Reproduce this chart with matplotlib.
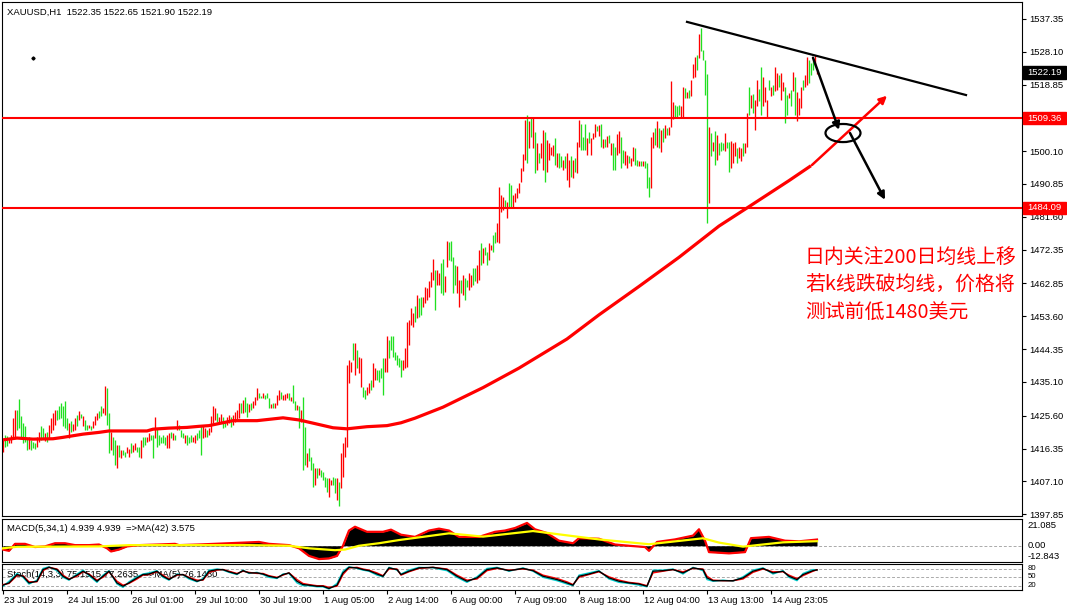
import numpy as np
import matplotlib
matplotlib.use("Agg")
import matplotlib.pyplot as plt
from matplotlib.patches import Ellipse, FancyArrowPatch, Rectangle
from matplotlib.transforms import blended_transform_factory as blend

plt.rcParams["font.family"] = ["Liberation Sans", "DejaVu Sans"]
FS = 6.8

# ---- XAUUSD H1 bars (high / low per bar, colour code per bar) ----
hi = [1418.8, 1420.2, 1419.9, 1419.3, 1420.2, 1424.9, 1427.2, 1427.2, 1430.3, 1425.4,
      1423.5, 1422.6, 1419.3, 1419.7, 1418.8, 1418.3, 1417.9, 1419.7, 1421.1, 1422.6,
      1422.1, 1420.7, 1421.1, 1423.0, 1424.9, 1426.3, 1427.2, 1427.2, 1428.2, 1429.1,
      1428.2, 1429.6, 1424.9, 1423.5, 1424.0, 1423.2, 1424.9, 1425.8, 1426.8, 1426.0,
      1425.4, 1424.4, 1423.0, 1423.0, 1422.6, 1424.0, 1425.4, 1426.3, 1426.8, 1428.2,
      1427.7, 1434.0, 1433.5, 1426.3, 1421.1, 1419.7, 1418.8, 1417.4, 1417.4, 1416.0,
      1416.0, 1415.3, 1416.9, 1416.3, 1417.9, 1417.4, 1417.9, 1416.9, 1416.9, 1418.8,
      1419.7, 1419.7, 1419.7, 1420.7, 1420.2, 1420.2, 1425.1, 1422.1, 1420.2, 1419.7,
      1420.2, 1419.7, 1420.2, 1420.7, 1421.1, 1420.7, 1420.2, 1424.4, 1423.0, 1421.6,
      1420.7, 1420.2, 1420.2, 1419.7, 1420.2, 1419.7, 1420.2, 1420.7, 1421.6, 1422.6,
      1422.6, 1422.1, 1421.6, 1422.1, 1425.5, 1428.2, 1427.7, 1426.3, 1425.3, 1426.1,
      1425.3, 1423.9, 1425.3, 1425.8, 1425.3, 1425.8, 1426.5, 1427.2, 1429.1, 1429.3,
      1430.0, 1431.0, 1429.3, 1428.9, 1429.1, 1429.6, 1431.0, 1433.3, 1431.9, 1431.2,
      1431.9, 1431.4, 1431.9, 1430.5, 1428.9, 1429.1, 1429.1, 1431.4, 1432.8, 1432.4,
      1431.4, 1431.7, 1431.9, 1432.1, 1431.0, 1434.3, 1429.6, 1428.6, 1428.3, 1427.2,
      1430.8, 1422.5, 1415.0, 1416.4, 1414.1, 1412.4, 1410.8, 1410.8, 1410.8, 1410.3,
      1409.8, 1408.4, 1408.0, 1408.0, 1407.5, 1408.4, 1408.0, 1408.0, 1407.0, 1415.0,
      1417.8, 1419.7, 1439.9, 1441.3, 1440.8, 1446.2, 1446.2, 1444.1, 1442.2, 1441.8,
      1433.8, 1432.8, 1433.8, 1434.7, 1435.7, 1440.4, 1438.9, 1438.5, 1438.5, 1438.9,
      1441.8, 1441.8, 1447.9, 1446.9, 1447.9, 1448.1, 1443.6, 1442.7, 1441.8, 1441.3,
      1441.3, 1444.6, 1452.1, 1452.6, 1455.8, 1454.4, 1456.5, 1459.6, 1458.7, 1459.1,
      1459.1, 1461.9, 1461.5, 1463.4, 1466.2, 1469.6, 1466.6, 1466.6, 1465.7, 1468.5,
      1469.6, 1464.8, 1474.9, 1474.6, 1474.9, 1470.4, 1468.0, 1467.8, 1463.8, 1463.8,
      1465.2, 1464.3, 1463.8, 1465.7, 1465.2, 1467.1, 1467.1, 1468.0, 1472.3, 1474.2,
      1472.7, 1473.2, 1471.8, 1474.2, 1473.7, 1476.5, 1477.4, 1479.8, 1489.9, 1487.8,
      1487.3, 1486.4, 1485.9, 1491.1, 1490.6, 1487.8, 1488.2, 1489.6, 1491.1, 1495.3,
      1499.3, 1508.9, 1510.3, 1508.7, 1509.8, 1509.4, 1505.6, 1502.3, 1499.5, 1502.3,
      1506.1, 1505.6, 1503.3, 1502.3, 1501.4, 1501.9, 1503.7, 1499.5, 1499.7, 1498.6,
      1497.6, 1498.6, 1499.5, 1497.6, 1498.6, 1497.6, 1498.1, 1502.8, 1508.9, 1507.8,
      1504.2, 1507.8, 1503.7, 1505.6, 1503.7, 1505.1, 1507.8, 1507.2, 1507.5, 1507.8,
      1503.5, 1503.5, 1504.4, 1504.7, 1502.3, 1502.3, 1501.4, 1504.9, 1505.9, 1504.2,
      1500.5, 1500.0, 1499.0, 1498.6, 1498.1, 1501.4, 1500.9, 1497.6, 1497.2, 1497.4,
      1497.2, 1497.2, 1496.7, 1492.9, 1504.2, 1505.6, 1506.6, 1508.6, 1506.6, 1506.1,
      1506.6, 1507.5, 1506.6, 1507.0, 1519.9, 1513.9, 1513.1, 1512.9, 1513.1, 1512.7,
      1518.3, 1517.8, 1516.7, 1517.4, 1520.2, 1524.6, 1526.7, 1527.2, 1533.0, 1534.9,
      1528.6, 1525.8, 1521.8, 1507.0, 1505.2, 1502.8, 1505.8, 1504.7, 1502.3, 1502.8,
      1502.3, 1505.2, 1502.8, 1502.6, 1503.0, 1502.3, 1502.8, 1500.9, 1501.4, 1500.9,
      1502.3, 1502.3, 1510.8, 1518.3, 1515.9, 1516.1, 1514.5, 1520.2, 1517.6, 1523.9,
      1521.1, 1518.3, 1514.5, 1520.2, 1518.3, 1518.6, 1523.9, 1522.0, 1521.6, 1522.0,
      1519.7, 1518.3, 1515.9, 1516.4, 1517.4, 1522.5, 1521.1, 1516.7, 1515.0, 1518.3,
      1520.2, 1521.6, 1526.7, 1525.8, 1524.9, 1525.8, 1527.2, 1522.65]
lo = [1415.5, 1416.9, 1417.2, 1417.9, 1418.0, 1419.3, 1419.7, 1421.6, 1422.1, 1419.3,
      1417.9, 1418.3, 1416.0, 1416.3, 1416.0, 1416.4, 1416.3, 1416.9, 1418.3, 1418.8,
      1419.3, 1418.5, 1418.3, 1419.3, 1420.7, 1421.6, 1423.0, 1424.4, 1424.6, 1424.9,
      1422.6, 1422.1, 1421.6, 1419.3, 1421.1, 1421.3, 1421.6, 1422.6, 1424.4, 1424.9,
      1422.6, 1421.6, 1421.6, 1422.1, 1421.6, 1422.1, 1423.0, 1424.4, 1424.9, 1425.4,
      1426.3, 1425.8, 1423.0, 1415.0, 1416.0, 1414.6, 1411.8, 1411.0, 1414.1, 1413.6,
      1414.6, 1414.1, 1415.0, 1414.1, 1415.0, 1415.5, 1416.0, 1415.5, 1414.1, 1413.6,
      1416.9, 1417.4, 1418.3, 1418.5, 1418.8, 1413.6, 1419.3, 1416.9, 1417.4, 1417.9,
      1417.9, 1417.4, 1416.4, 1416.4, 1419.3, 1418.8, 1418.8, 1421.6, 1421.6, 1419.7,
      1419.3, 1417.9, 1417.4, 1417.9, 1418.3, 1418.3, 1417.9, 1418.8, 1419.3, 1414.6,
      1419.3, 1419.7, 1419.7, 1420.2, 1421.1, 1423.5, 1424.4, 1423.9, 1423.5, 1423.9,
      1422.0, 1422.5, 1423.0, 1423.5, 1422.5, 1423.0, 1423.9, 1424.6, 1424.9, 1426.3,
      1426.3, 1426.7, 1425.3, 1426.7, 1427.2, 1427.7, 1428.6, 1430.0, 1430.5, 1430.5,
      1430.5, 1430.2, 1430.5, 1427.7, 1427.7, 1427.7, 1427.7, 1428.6, 1430.0, 1430.2,
      1430.0, 1430.0, 1430.5, 1430.0, 1429.6, 1429.1, 1427.2, 1427.2, 1422.0, 1423.9,
      1410.3, 1411.7, 1411.2, 1412.7, 1410.3, 1405.6, 1406.1, 1408.0, 1408.9, 1408.4,
      1407.5, 1405.6, 1404.2, 1402.8, 1406.1, 1406.1, 1403.7, 1401.9, 1400.2, 1405.1,
      1408.4, 1414.1, 1416.9, 1434.7, 1438.0, 1441.3, 1437.1, 1438.9, 1437.5, 1433.8,
      1431.0, 1430.2, 1431.4, 1431.9, 1432.8, 1433.8, 1435.7, 1435.7, 1435.2, 1436.1,
      1431.4, 1438.0, 1438.0, 1441.8, 1444.1, 1442.2, 1441.3, 1439.9, 1439.4, 1436.6,
      1438.5, 1438.9, 1439.4, 1445.5, 1451.2, 1450.7, 1452.0, 1453.0, 1453.5, 1454.0,
      1456.3, 1457.3, 1458.2, 1459.1, 1461.9, 1463.8, 1455.4, 1462.4, 1462.4, 1460.1,
      1459.6, 1460.3, 1467.6, 1469.5, 1469.3, 1460.1, 1462.4, 1460.1, 1456.3, 1460.1,
      1459.6, 1458.2, 1461.9, 1461.0, 1461.9, 1462.4, 1463.4, 1462.9, 1463.8, 1468.0,
      1468.5, 1470.9, 1468.0, 1469.5, 1472.3, 1471.8, 1474.2, 1474.6, 1474.2, 1483.1,
      1483.5, 1484.0, 1481.2, 1484.5, 1484.5, 1484.5, 1485.9, 1486.8, 1488.2, 1491.5,
      1494.6, 1497.6, 1496.7, 1500.9, 1504.2, 1500.9, 1493.9, 1494.8, 1496.7, 1498.1,
      1494.8, 1491.5, 1494.3, 1497.6, 1499.0, 1498.6, 1496.2, 1495.7, 1495.3, 1495.7,
      1494.8, 1495.3, 1492.0, 1489.9, 1492.9, 1492.5, 1494.3, 1493.9, 1501.4, 1500.5,
      1500.5, 1500.5, 1499.0, 1502.3, 1499.0, 1503.4, 1504.2, 1505.9, 1504.4, 1501.4,
      1500.9, 1501.4, 1501.4, 1502.3, 1499.0, 1494.8, 1494.8, 1499.0, 1499.5, 1495.3,
      1496.7, 1496.2, 1495.3, 1496.7, 1495.8, 1497.2, 1496.2, 1495.8, 1495.8, 1495.8,
      1495.8, 1495.3, 1489.7, 1487.3, 1489.7, 1500.9, 1501.9, 1501.4, 1500.9, 1499.8,
      1502.8, 1503.7, 1504.7, 1504.7, 1507.0, 1509.2, 1509.8, 1509.8, 1510.3, 1509.8,
      1509.8, 1515.0, 1515.0, 1515.0, 1515.5, 1520.8, 1521.1, 1523.0, 1526.3, 1528.2,
      1525.8, 1515.9, 1479.8, 1485.4, 1498.6, 1500.0, 1496.2, 1497.6, 1499.0, 1500.0,
      1500.5, 1500.0, 1500.9, 1494.2, 1495.3, 1496.7, 1498.6, 1496.7, 1498.1, 1497.4,
      1498.6, 1499.5, 1501.4, 1510.3, 1512.2, 1510.8, 1506.1, 1512.7, 1514.1, 1510.3,
      1512.7, 1513.9, 1509.4, 1517.4, 1515.5, 1515.9, 1516.9, 1517.4, 1518.3, 1514.5,
      1516.9, 1508.0, 1510.3, 1515.0, 1512.7, 1516.9, 1510.3, 1508.6, 1510.3, 1512.2,
      1517.4, 1518.3, 1518.8, 1519.2, 1521.6, 1523.0, 1524.4, 1521.9]
bar_col = ("rggrrrrggg" "gggrgggrrg" "grgrrrrggg" "gggrgrrgrg" "rggrgrrrgg"
           "rrggrggrgr" "ggrrgrrggr" "ggrrggrggg" "ggrrgrgrgg" "grgggrrggg"
           "rrgrrrrgrr" "ggrrgrrrrg" "rggrgrrrgg" "rgggrgrrrg" "rrrgrggrgr"
           "ggrgggrgrg" "gggrrggrgr" "rrrrrgrgrr" "ggrrgrrggg" "grrggggggg"
           "rrrrrrgrgg" "rrrrrrgrrg" "grrggggrrg" "rggrrggrrg" "rggrrggrrr"
           "rgrggrrrrr" "rrgrgrgrgr" "rgrrrrgrgg" "rgrrgrgrrg" "ggrgrrrgrg"
           "rgrgrggrrg" "grrgrrggrg" "rgggrrgrgr" "grgrrrgggr" "rgrgrrrgrg"
           "gggrgrgrgg" "grggrrrgrr" "grrgrgrrgg" "rrrgrgrrgr" "rggrgrgrrr"
           "grrgggrr")

# 200-period moving average (read at intervals)
ma_idx = [0, 7, 15, 25, 30, 40, 48, 53, 72, 75, 83, 92, 98, 103, 115, 127, 140, 148,
          155, 165, 172, 182, 192, 199, 206, 220, 240, 258, 282, 298, 318, 338, 358,
          372, 393, 404]
ma_val = [1418.8, 1419.3, 1419.0, 1419.1, 1419.5, 1420.4, 1420.9, 1421.3, 1421.3,
          1421.8, 1422.1, 1422.3, 1422.6, 1422.8, 1424.2, 1424.2, 1425.0, 1424.4,
          1423.5, 1422.2, 1421.9, 1422.5, 1422.8, 1423.6, 1424.9, 1428.0, 1433.5,
          1439.0, 1447.2, 1454.0, 1462.0, 1470.2, 1479.0, 1484.1, 1491.8, 1496.0]

level_hi, level_lo, last_price = 1509.36, 1484.09, 1522.19
trend_idx, trend_val = [342, 481.5], [1536.5, 1515.9]

price_ticks = [1537.35, 1528.10, 1518.85, 1500.10, 1490.85, 1481.60, 1472.35, 1462.85,
               1453.60, 1444.35, 1435.10, 1425.60, 1416.35, 1407.10, 1397.85]

date_idx = [0, 32, 64, 96, 128, 160, 192, 224, 256, 288, 320, 352, 384]
date_lab = ["23 Jul 2019", "24 Jul 15:00", "26 Jul 01:00", "29 Jul 10:00", "30 Jul 19:00",
            "1 Aug 05:00", "2 Aug 14:00", "6 Aug 00:00", "7 Aug 09:00", "8 Aug 18:00",
            "12 Aug 04:00", "13 Aug 13:00", "14 Aug 23:05"]

# MACD(5,34,1) and its MA(42)
macd_idx = [0, 3, 6, 11, 16, 21, 26, 31, 36, 43, 48, 52, 54, 58, 62, 68, 78, 86, 88, 98,
            113, 128, 133, 143, 148, 153, 158, 163, 167, 170, 173, 176, 182, 190, 194, 199,
            206, 213, 218, 223, 228, 238, 246, 251, 256, 262, 266, 272, 278, 285, 288, 298,
            306, 313, 321, 323, 327, 336, 345, 348, 351, 353, 363, 371, 374, 383, 391, 398, 407]
macd_val = [-3, -4, 1.5, 1.5, -1, -0.5, 2, 2, 0.5, 0.5, 1, -2, -4.5, -3, -0.5, 0.5, 1, 1.5,
            0.5, 1, 2, 3, 1.5, 0.5, -2, -8, -10.5, -10, -8, 0, 12, 15, 11, 11, 12.7, 8.7,
            7, 12, 13.5, 12, 7, 7, 11, 12, 14, 18, 13, 10, 4, 2, 6, 5.5, 1, 0, -1, -4, 3,
            5, 8, 13, 4, -5, -6, -5, 6, 7, 4, 3.5, 4.9]
sig_idx = [0, 7, 48, 63, 123, 143, 153, 166, 171, 178, 188, 198, 223, 240, 265, 278, 298,
           323, 350, 358, 370, 390, 407]
sig_val = [-2, -0.8, -0.5, 0.5, 0.5, 0, -2, -3.5, -3, 0, 2, 4.5, 9.8, 7.2, 11.6, 9, 5,
           1.2, 5.9, 2.5, -0.7, 2.7, 3.6]

# Stochastic(14,3,3)
st_idx = [0, 3, 7, 10, 13, 17, 20, 23, 27, 30, 33, 37, 40, 43, 47, 50, 53, 57, 60, 63,
          67, 70, 73, 77, 80, 83, 87, 90, 93, 97, 100, 103, 107, 110, 113, 117, 120, 123,
          127, 130, 133, 137, 140, 143, 147, 150, 153, 157, 160, 163, 167, 170, 173, 177,
          180, 183, 187, 190, 193, 197, 199, 203, 208, 215, 222, 227, 232, 237, 242, 247,
          253, 260, 265, 270, 277, 282, 285, 288, 293, 298, 303, 308, 313, 318, 322, 325,
          330, 335, 340, 345, 350, 352, 355, 360, 365, 370, 375, 380, 385, 390, 393, 397,
          400, 405, 407]
st_main = [22, 30, 60, 54, 30, 36, 78, 86, 78, 54, 42, 58, 72, 60, 36, 54, 72, 30, 18, 30,
           48, 60, 62, 72, 54, 42, 60, 60, 48, 36, 42, 72, 78, 78, 70, 62, 74, 66, 66, 62,
           54, 48, 60, 66, 36, 24, 22, 18, 18, 10, 22, 66, 86, 84, 78, 74, 62, 54, 84, 78,
           60, 72, 84, 86, 78, 54, 36, 48, 78, 84, 74, 82, 74, 54, 42, 30, 22, 54, 62, 72,
           48, 36, 30, 26, 18, 72, 74, 78, 66, 84, 78, 48, 38, 38, 38, 48, 72, 82, 66, 72,
           54, 42, 60, 74, 77]
st_cyan = [18, 36, 64, 50, 26, 40, 82, 88, 74, 50, 40, 62, 76, 56, 32, 58, 74, 26, 14, 34,
           52, 62, 66, 74, 50, 40, 62, 58, 44, 34, 46, 76, 80, 76, 68, 60, 76, 64, 68, 60,
           50, 46, 62, 64, 30, 20, 20, 16, 16, 8, 28, 72, 88, 82, 76, 72, 58, 52, 86, 76,
           62, 76, 86, 84, 74, 50, 32, 52, 82, 86, 72, 84, 72, 50, 38, 26, 20, 58, 66, 74,
           44, 32, 28, 22, 16, 76, 76, 80, 62, 86, 74, 42, 36, 40, 36, 52, 76, 84, 62, 74,
           50, 38, 64, 78, 75]
st_red = [24, 28, 56, 56, 34, 34, 74, 86, 80, 58, 44, 54, 70, 62, 40, 50, 70, 36, 22, 28,
          44, 58, 60, 70, 58, 44, 58, 60, 50, 40, 40, 68, 76, 78, 72, 64, 72, 68, 64, 64,
          56, 50, 58, 66, 42, 28, 24, 20, 20, 14, 18, 60, 84, 86, 80, 76, 66, 56, 80, 80,
          58, 70, 82, 86, 80, 58, 40, 44, 74, 82, 76, 80, 76, 58, 46, 34, 24, 50, 60, 70,
          52, 40, 32, 28, 20, 66, 72, 78, 70, 82, 80, 54, 40, 38, 38, 44, 68, 80, 70, 70,
          58, 46, 56, 72, 77]

note = ["日内关注200日均线上移", "若k线跌破均线，价格将", "测试前低1480美元"]

GREEN, RED = "#20e020", "#ff0000"
W, H = 1067, 607
fig = plt.figure(figsize=(W / 100, H / 100), dpi=100)
fig.patch.set_facecolor("white")

def px_axes(x0, y0, x1, y1):
    return fig.add_axes([x0 / W, 1 - y1 / H, (x1 - x0) / W, (y1 - y0) / H])

ax = px_axes(2, 2, 1022, 516)
am = px_axes(2, 519, 1022, 562)
ast = px_axes(2, 564, 1022, 590)
XL = (-0.5, 509.5)
for a in (ax, am, ast):
    a.set_xlim(*XL)
    for s in a.spines.values():
        s.set_linewidth(0.8); s.set_color("black")
    a.tick_params(axis="x", bottom=False, labelbottom=False)
    a.tick_params(axis="y", left=False, labelleft=False)

# ---- main panel ----
idx = np.arange(len(hi))
cols = [RED if c == "r" else GREEN for c in bar_col]
ax.vlines(idx, lo, hi, colors=cols, lw=0.95, zorder=2)
ax.plot(ma_idx, ma_val, color=RED, lw=2.3, zorder=3, solid_capstyle="butt")
ax.axhline(level_hi, color=RED, lw=1.5, zorder=3)
ax.axhline(level_lo, color=RED, lw=1.5, zorder=3)
ax.plot(trend_idx, trend_val, color="black", lw=1.6, zorder=4)
ax.set_ylim(1397.35, 1542.1)

arrows = [((405, 1526.4), (418, 1506.1), "black"),
          ((423.5, 1505.2), (441, 1486.4), "black"),
          ((404.5, 1496.2), (442, 1515.7), RED)]
for (x0, y0), (x1, y1), c in arrows:
    ax.add_patch(FancyArrowPatch((x0, y0), (x1, y1), arrowstyle="-|>", mutation_scale=11,
                                 color=c, lw=1.8, zorder=5, shrinkA=0, shrinkB=0))
ax.add_patch(Ellipse((420, 1505.2), 17.5, 5.1, fill=False, ec="black", lw=1.6, zorder=5))
ax.plot([15], [1526.4], marker="D", ms=1.6, color="black", zorder=5)

ax.yaxis.tick_right()
ax.set_yticks(price_ticks)
ax.set_yticklabels([f"{v:.2f}" for v in price_ticks])
ax.tick_params(axis="y", right=True, labelright=True, length=3, width=0.8, pad=2,
               labelsize=FS)

tr = blend(ax.transAxes, ax.transData)
for v, bg in [(level_hi, RED), (level_lo, RED), (last_price, "black")]:
    ax.add_patch(Rectangle((1.0008, v - 1.75), 0.0425, 3.5, transform=tr, color=bg,
                           clip_on=False, zorder=6))
    ax.text(1.0055, v, f"{v:.2f}", transform=tr, color="white", fontsize=FS,
            va="center", ha="left", zorder=7, clip_on=False)

ax.text(5 / 1020, 1 - 10 / 514, "XAUUSD,H1  1522.35 1522.65 1521.90 1522.19",
        transform=ax.transAxes, fontsize=FS, va="center", ha="left")

for line, y in zip(note, [1470.3, 1462.4, 1454.8]):
    ax.text(401, y, line, color=RED, fontsize=14.3, va="center", ha="left",
            family=["Noto Sans CJK SC", "DejaVu Sans"], zorder=6)

# ---- MACD panel ----
am.fill_between(macd_idx, 0, macd_val, color="black", lw=0, zorder=2)
am.plot(macd_idx, macd_val, color=RED, lw=1.6, zorder=3)
am.plot(sig_idx, sig_val, color="#ffff00", lw=1.6, zorder=4)
am.axhline(0, color="#aaaaaa", lw=0.7, ls=(0, (3, 2)), zorder=1)
am.set_ylim(-12.8, 21.1)
am.text(5 / 1020, 0.79, "MACD(5,34,1) 4.939 4.939  =>MA(42) 3.575", transform=am.transAxes,
        fontsize=FS, va="center", ha="left", zorder=6)
for v, f in [("21.085", 0.84), ("0.00", 0.38), ("-12.843", 0.12)]:
    am.text(1.0055, f, v, transform=am.transAxes, fontsize=FS, va="center", ha="left",
            clip_on=False)

# ---- Stochastic panel ----
for lv in (80, 50, 20):
    ast.axhline(lv, color="#aaaaaa", lw=0.7, ls=(0, (3, 2)), zorder=1)
ast.plot(st_idx, st_cyan, color="#00d0d0", lw=1.0, zorder=2)
ast.plot(st_idx, st_red, color=RED, lw=1.0, zorder=3)
ast.plot(st_idx, st_main, color="black", lw=1.0, zorder=4)
ast.set_ylim(4.5, 98)
ast.text(5 / 1020, 0.6, "Stoch(14,3,3) 75.1515 77.2635  =>MA(5) 76.1480",
         transform=ast.transAxes, fontsize=FS, va="center", ha="left", zorder=1)
trs = blend(ast.transAxes, ast.transData)
for v, y in [("80", 82), ("50", 52), ("20", 22)]:
    ast.text(1.0055, y, v, transform=trs, fontsize=5.6, va="center", ha="left",
             clip_on=False)

ast.set_xticks(date_idx)
ast.tick_params(axis="x", bottom=True, length=3, width=0.8, labelbottom=False)
trx = blend(ast.transData, ast.transAxes)
for i, lab in zip(date_idx, date_lab):
    ast.text(i + 0.5, -0.42, lab, transform=trx, fontsize=FS, va="center", ha="left",
             clip_on=False)

fig.savefig("out.png", dpi=100)
